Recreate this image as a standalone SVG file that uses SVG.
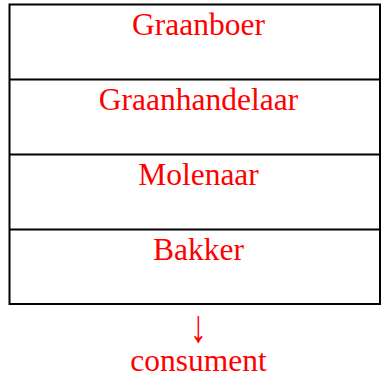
<svg xmlns="http://www.w3.org/2000/svg" width="381" height="376" viewBox="0 0 381 376">
<style>
.t{font-family:"Liberation Serif","Times New Roman",serif;font-size:31.5px;fill:#ff0000;text-anchor:middle}
.b{fill:none;stroke:#000;stroke-width:2}
</style>
<rect width="381" height="376" fill="#fff"/>
<g id="connectors">
<line class="b" x1="9.5" y1="79.5" x2="380" y2="79.5"/>
<line class="b" x1="9.5" y1="154.5" x2="380" y2="154.5"/>
<line class="b" x1="9.5" y1="229.5" x2="380" y2="229.5"/>
</g>
<rect class="b" x="9.5" y="4.5" width="370.5" height="299.5"/>
<g id="graanboer"><text class="t" x="198.5" y="35">Graanboer</text></g>
<g id="graanhandelaar"><text class="t" x="198.5" y="110">Graanhandelaar</text></g>
<g id="molenaar"><text class="t" x="198.5" y="185">Molenaar</text></g>
<g id="bakker"><text class="t" x="198.5" y="260">Bakker</text></g>
<g id="arrow"><text class="t" transform="translate(198.5,342) scale(1,1.35)" x="0" y="0" style="font-size:34px">↓</text></g>
<g id="consument"><text class="t" x="198.5" y="370.5">consument</text></g>
</svg>
